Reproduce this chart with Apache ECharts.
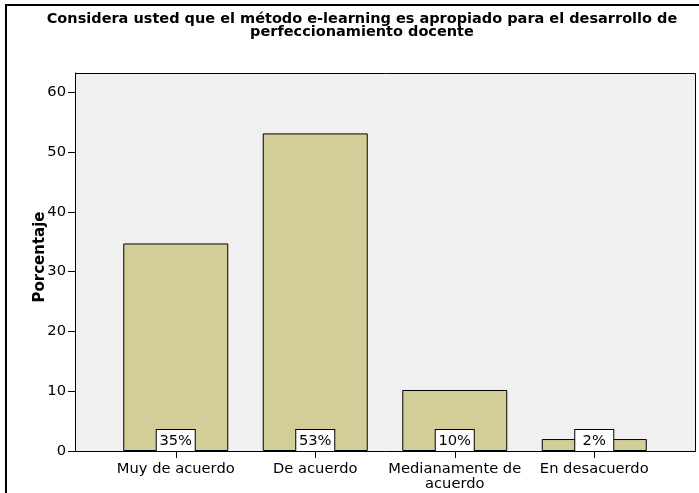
<!DOCTYPE html>
<html>
<head>
<meta charset="utf-8">
<script src="https://cdn.jsdelivr.net/npm/echarts@6/dist/echarts.min.js"></script>
<style>
  html, body { margin: 0; padding: 0; background: #fff; }
  #chart { width: 699px; height: 493px; }
</style>
</head>
<body>
<div id="chart"></div>
<script>
// Respuestas a la encuesta (porcentaje de docentes)
const categories = ['Muy de acuerdo', 'De acuerdo', 'Medianamente de\nacuerdo', 'En desacuerdo'];
const percentages = [34.7, 53.1, 10.2, 2.0];
const percentLabels = ['35%', '53%', '10%', '2%'];
const yTicks = [0, 10, 20, 30, 40, 50, 60];

const chartTitle = 'Considera usted que el método e-learning es apropiado para el desarrollo de\nperfeccionamiento docente';
const yAxisTitle = 'Porcentaje';

const FONT = '"DejaVu Sans", Verdana, sans-serif';

const chart = echarts.init(document.getElementById('chart'), null, { renderer: 'canvas' });

chart.setOption({
  animation: false,
  backgroundColor: '#ffffff',
  title: {
    text: chartTitle,
    left: 362,
    top: 13,
    padding: 0,
    textAlign: 'center',
    textStyle: {
      fontFamily: FONT,
      fontSize: 14.5,
      fontWeight: 'bold',
      color: '#000',
      lineHeight: 13,
      align: 'center'
    }
  },
  graphic: [
    // outer frame
    {
      type: 'rect',
      z: 0,
      silent: true,
      shape: { x: 6, y: 5, width: 710, height: 520 },
      style: { fill: 'none', stroke: '#000', lineWidth: 2 }
    },
    // plot background
    {
      type: 'rect',
      z: -1,
      silent: true,
      shape: { x: 75.5, y: 73.5, width: 620, height: 378 },
      style: { fill: '#F0F0F0', stroke: '#000', lineWidth: 1 }
    }
  ],
  grid: {
    left: 106,
    right: 35,
    top: 73,
    bottom: 42,
    containLabel: false
  },
  xAxis: {
    type: 'category',
    data: categories,
    boundaryGap: true,
    axisLine: { show: false },
    axisTick: {
      show: true,
      alignWithLabel: true,
      length: 7,
      lineStyle: { color: '#000', width: 1 }
    },
    axisLabel: {
      fontFamily: FONT,
      fontSize: 14.7,
      color: '#000',
      margin: 11,
      lineHeight: 15,
      interval: 0
    }
  },
  yAxis: {
    type: 'value',
    min: 0,
    max: 63.2,
    interval: 10,
    offset: 31,
    name: yAxisTitle,
    nameLocation: 'middle',
    nameGap: 27,
    nameMoveOverlap: false,
    nameTextStyle: {
      fontFamily: FONT,
      fontSize: 15,
      fontWeight: 'bold',
      color: '#000',
      padding: [0, 0, 0, 10]
    },
    axisLine: { show: true, lineStyle: { color: '#000', width: 1 } },
    axisTick: {
      show: true,
      length: 7,
      customValues: yTicks,
      lineStyle: { color: '#000', width: 1 }
    },
    axisLabel: {
      fontFamily: FONT,
      fontSize: 14.7,
      color: '#000',
      margin: 9,
      customValues: yTicks
    },
    splitLine: { show: false }
  },
  series: [
    {
      type: 'bar',
      data: percentages,
      barWidth: 105,
      itemStyle: {
        color: '#D3CE97',
        borderColor: '#000',
        borderWidth: 1
      },
      label: {
        show: true,
        position: 'insideBottom',
        distance: 0,
        formatter: (p) => percentLabels[p.dataIndex],
        fontFamily: FONT,
        fontSize: 14.7,
        lineHeight: 16,
        color: '#000',
        backgroundColor: '#fff',
        borderColor: '#000',
        borderWidth: 1,
        padding: [3, 2, 2, 2],
        width: 34,
        align: 'center'
      }
    }
  ]
});
</script>
</body>
</html>
